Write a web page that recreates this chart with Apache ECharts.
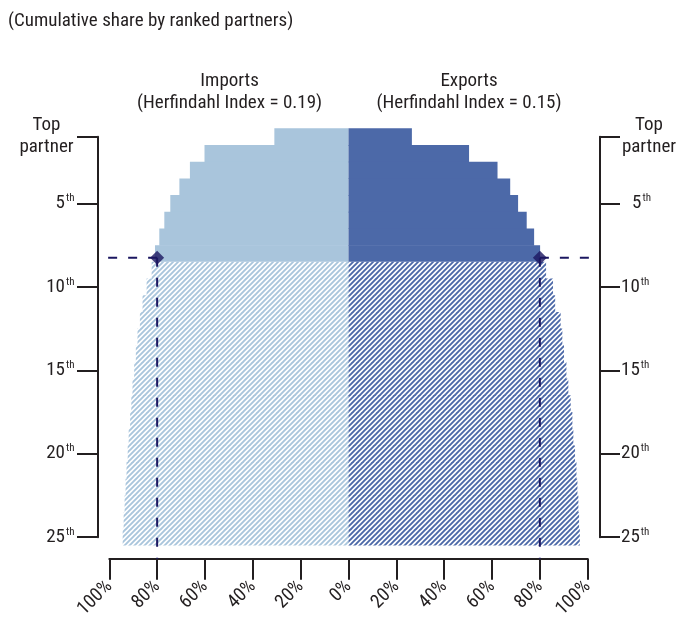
<!DOCTYPE html>
<html><head><meta charset="utf-8">
<script src="https://cdn.jsdelivr.net/npm/echarts@6/dist/echarts.min.js"></script>
<style>html,body{margin:0;padding:0;background:#fff}#c{width:680px;height:621px}</style>
</head><body><div id="c"></div>
<script>
const FONT = "'Roboto Condensed','Liberation Sans Narrow','Arial Narrow','DejaVu Sans Condensed',sans-serif";
const TEXT = '#231f20';

// ---- data ----
const subtitle = '(Cumulative share by ranked partners)';
const panelTitles = ['Imports\n(Herfindahl Index = 0.19)', 'Exports\n(Herfindahl Index = 0.15)'];
const ranks = [1,2,3,4,5,6,7,8,9,10,11,12,13,14,15,16,17,18,19,20,21,22,23,24,25];
const importsShare = [31.0,60.2,66.3,70.7,74.5,77.0,79.1,80.9,82.3,84.4,86.1,87.2,88.2,88.9,89.6,90.3,90.8,91.3,91.9,92.3,92.8,93.2,93.6,94.0,94.4];
const exportsShare = [26.5,50.4,62.3,67.6,70.9,74.5,77.6,80.1,82.6,85.5,86.4,88.7,89.4,90.1,91.1,91.9,92.9,93.6,94.0,94.7,95.3,95.7,96.1,96.4,96.7];
const rankTicks = [1,5,10,15,20,25];
const shareTicks = [-100,-80,-60,-40,-20,0,20,40,60,80,100];
const threshold = 80;
const markerRank = 8.25;

// ---- style ----
const LIGHT = '#a9c5dc', DARK = '#4c69a8', NAVY = '#1b1760';
const GRID = {left: 109.3, right: 91.4, top: 136.7, bottom: 78.3};
const Y_OFF = 11.8, X_OFF = 21.6;
const FS = 19;

function hatch(color){
  const s = 5, c = document.createElement('canvas');
  c.width = s; c.height = s;
  const g = c.getContext('2d');
  g.strokeStyle = color; g.lineWidth = 1.9; g.lineCap = 'square';
  g.beginPath();
  g.moveTo(0, s); g.lineTo(s, 0);
  g.moveTo(-1, 1); g.lineTo(1, -1);
  g.moveTo(s - 1, s + 1); g.lineTo(s + 1, s - 1);
  g.stroke();
  return c;
}

function barSeries(name, values, sign, color){
  const cut = values.findIndex(v => v >= threshold);
  const pattern = {image: hatch(color), repeat: 'repeat'};
  return {
    name, type: 'custom', clip: false, z: 2, silent: true,
    data: values.map((v, i) => [sign * v, ranks[i]]),
    renderItem(params, api){
      const x = api.value(0), r = api.value(1);
      const a = api.coord([x, r - 0.5]);
      const b = api.coord([0, r + 0.5]);
      const i = params.dataIndex;
      const solid = i <= cut;
      const extra = (i !== cut && i < values.length - 1) ? 0.6 : 0;
      return {
        type: 'rect',
        shape: {x: Math.min(a[0], b[0]), y: a[1], width: Math.abs(b[0] - a[0]), height: b[1] - a[1] + extra},
        style: {fill: solid ? color : pattern}
      };
    }
  };
}

function rankLabel(side){
  return function(v){
    if (v === ranks[0]) return '{top|Top\npartner}';
    const pad = (side === 'right' && v < 10) ? 'n5' : 'n';
    return '{' + pad + '|' + v + '}{s|th}';
  };
}
const rich = {
  top: {fontSize: FS, lineHeight: 22, width: 56, align: 'center', color: TEXT, fontFamily: FONT},
  n: {fontSize: FS, color: TEXT, fontFamily: FONT},
  n5: {fontSize: FS, color: TEXT, fontFamily: FONT, padding: [0, 0, 0, 11]},
  s: {fontSize: 11, color: TEXT, fontFamily: FONT, padding: [0, 0, 10, 1]}
};

function yAxis(position){
  return {
    type: 'value', inverse: true, min: ranks[0], max: ranks[ranks.length - 1],
    position, offset: Y_OFF,
    axisLine: {show: true, onZero: false, lineStyle: {color: TEXT, width: 2}},
    axisTick: {show: true, length: 20.5, customValues: rankTicks, lineStyle: {color: TEXT, width: 2}},
    axisLabel: {customValues: rankTicks, margin: position === 'left' ? 23 : 21.5, formatter: rankLabel(position), rich},
    splitLine: {show: false}
  };
}

const chart = echarts.init(document.getElementById('c'), null, {renderer: 'canvas'});
chart.setOption({
  animation: false,
  backgroundColor: '#fff',
  textStyle: {fontFamily: FONT, color: TEXT},
  title: {text: subtitle, left: 3, top: 7, textStyle: {fontSize: FS, fontWeight: 'normal', color: TEXT, fontFamily: FONT}},
  graphic: [
    {type: 'text', x: 229.6, y: 70, style: {text: panelTitles[0], align: 'center', fontSize: FS, lineHeight: 22, fill: TEXT, fontFamily: FONT}},
    {type: 'text', x: 469.0, y: 70, style: {text: panelTitles[1], align: 'center', fontSize: FS, lineHeight: 22, fill: TEXT, fontFamily: FONT}}
  ],
  grid: GRID,
  xAxis: {
    type: 'value', min: shareTicks[0], max: shareTicks[shareTicks.length - 1], interval: 20,
    position: 'bottom', offset: X_OFF,
    axisLine: {show: true, onZero: false, lineStyle: {color: TEXT, width: 2}},
    axisTick: {show: true, length: 21, lineStyle: {color: TEXT, width: 2}},
    axisLabel: {rotate: 45, margin: 25, fontSize: FS, color: TEXT, fontFamily: FONT,
      formatter: v => Math.abs(v) + '%'},
    splitLine: {show: false}
  },
  yAxis: [yAxis('left'), yAxis('right')],
  series: [
    barSeries('Imports', importsShare, -1, LIGHT),
    barSeries('Exports', exportsShare, 1, DARK),
    {
      type: 'custom', clip: false, z: 3, silent: true,
      data: [[-threshold, markerRank], [threshold, markerRank]],
      renderItem(params, api){
        const x = api.value(0), r = api.value(1);
        const p = api.coord([x, r]);
        const edge = x < 0
          ? api.coord([shareTicks[0], r])[0] - Y_OFF
          : api.coord([shareTicks[shareTicks.length - 1], r])[0] + Y_OFF;
        const bottom = api.coord([x, ranks[ranks.length - 1]])[1] + X_OFF;
        const st = {stroke: NAVY, lineWidth: 2, lineDash: [9, 11]};
        return {type: 'group', children: [
          {type: 'line', shape: {x1: p[0], y1: p[1], x2: edge, y2: p[1]}, style: st},
          {type: 'line', shape: {x1: p[0], y1: p[1], x2: p[0], y2: bottom}, style: st}
        ]};
      }
    },
    {
      type: 'scatter', z: 4, silent: true, symbol: 'diamond', symbolSize: 14,
      itemStyle: {color: NAVY},
      data: [[-threshold, markerRank], [threshold, markerRank]]
    }
  ]
});
</script></body></html>
